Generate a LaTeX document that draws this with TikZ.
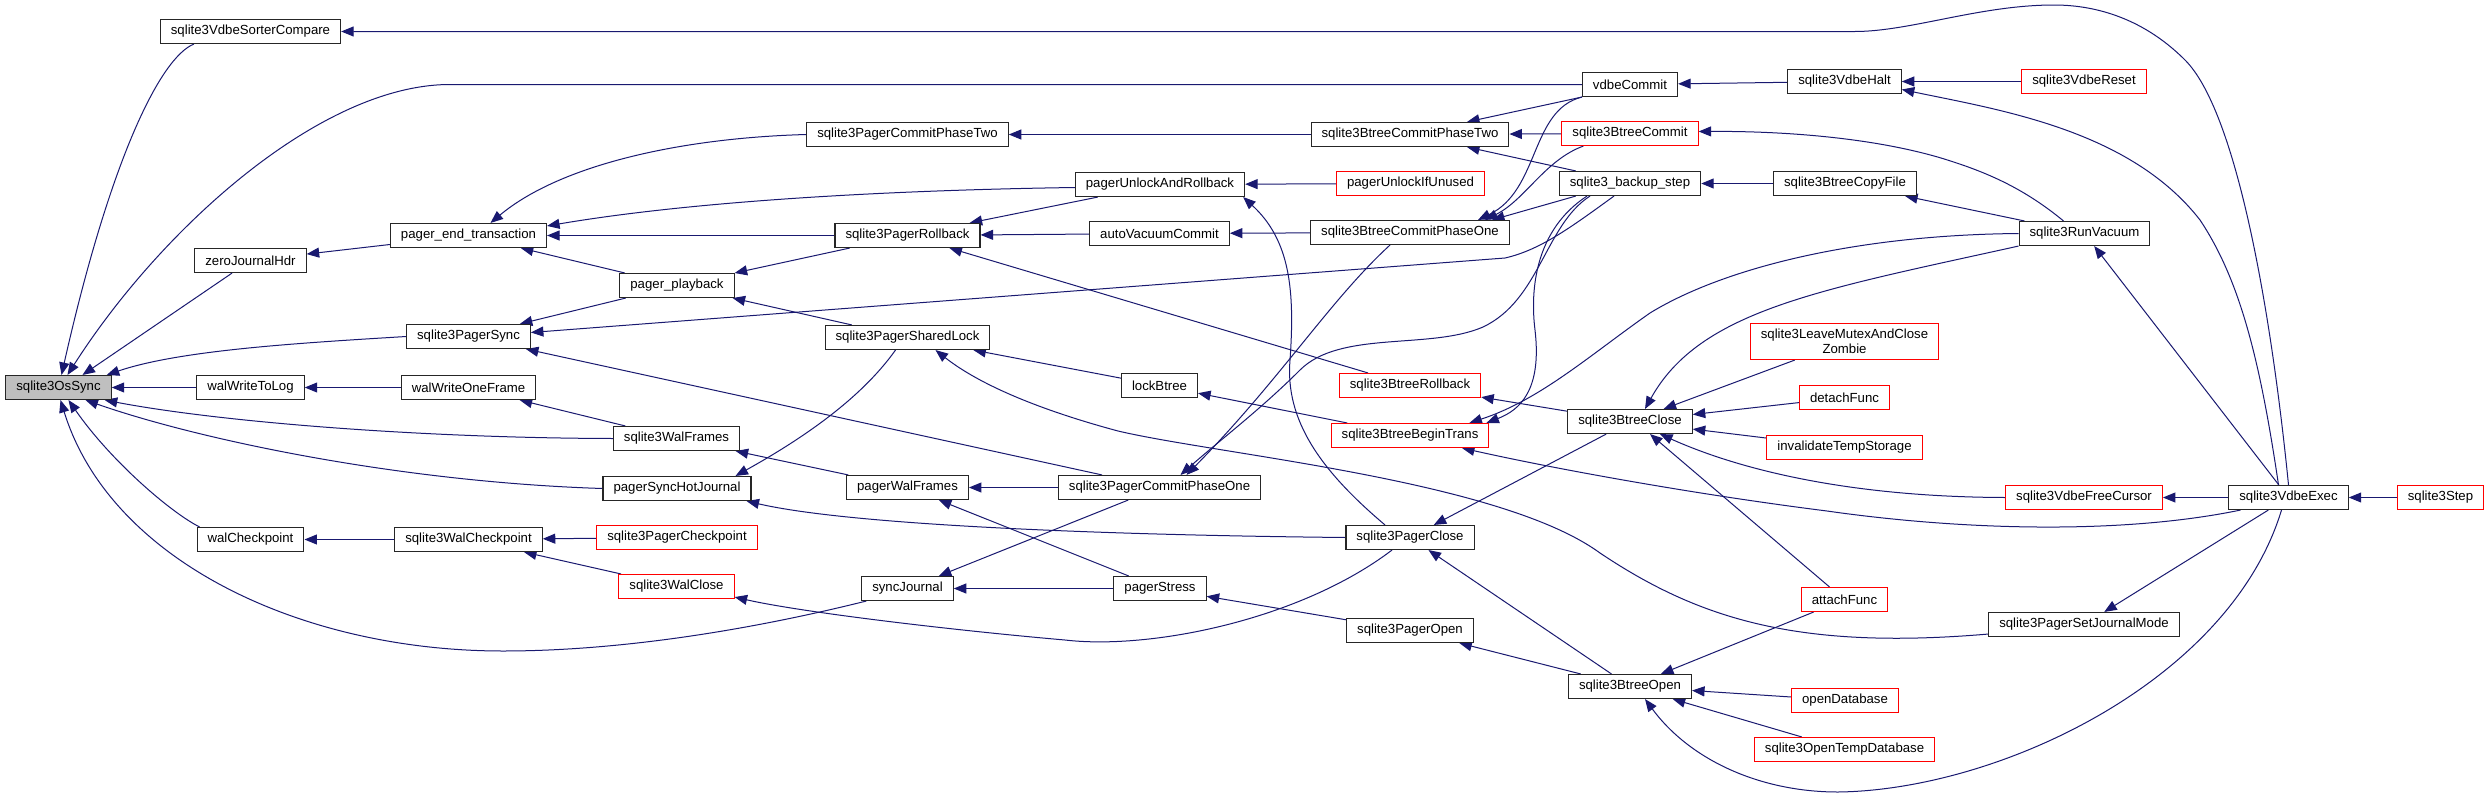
\documentclass[tikz,border=0pt]{standalone}
\usepackage{fontspec}
\setmainfont{Liberation Sans}
\usetikzlibrary{arrows.meta}
\definecolor{navyc}{HTML}{191970}
\definecolor{redc}{HTML}{FF0000}
\pgfdeclarelayer{edgelayer}
\pgfsetlayers{edgelayer,main}
\tikzset{
  fn/.style={draw=black!85, line width=1.1pt, fill=white, rectangle, inner xsep=10.5pt, inner ysep=0pt,
    minimum height=24pt, font=\fontsize{13.2}{14.5}\selectfont},
  fnred/.style={fn, draw=redc},
  fngray/.style={fn, fill=gray!50},
  e/.style={draw=navyc, line width=1pt, -{Triangle[length=12.5pt,width=10pt]}},
}
\begin{document}
\begin{tikzpicture}[x=1pt,y=-1pt]
\useasboundingbox (0,0) rectangle (2490,798);
% nodes
\node[fngray] (ossync) at (58.5,387.5) {sqlite3OsSync};
\node[fn] (sorter) at (250.5,31.5) {sqlite3VdbeSorterCompare};
\node[fn] (zero) at (250.5,260.5) {zeroJournalHdr};
\node[fn] (wwtl) at (250.5,387.5) {walWriteToLog};
\node[fn] (walcp) at (250.5,539.5) {walCheckpoint};
\node[fn] (pet) at (468.5,235.5) {pager\_end\_transaction};
\node[fn] (psync) at (468.5,336.5) {sqlite3PagerSync};
\node[fn] (wwof) at (468.5,387.5) {walWriteOneFrame};
\node[fn] (swcp) at (468.5,539.5) {sqlite3WalCheckpoint};
\node[fn] (pcp2) at (907.5,134.5) {sqlite3PagerCommitPhaseTwo};
\node[fn] (pplay) at (677,285.5) {pager\_playback};
\node[fn] (wframes) at (676.5,438.5) {sqlite3WalFrames};
\node[fn] (pshj) at (677,488.5) {pagerSyncHotJournal};
\node[fnred] (pcheck) at (677,537.5) {sqlite3PagerCheckpoint};
\node[fnred] (wclose) at (676.5,586.5) {sqlite3WalClose};
\node[fn] (puar) at (1160,184.5) {pagerUnlockAndRollback};
\node[fn] (proll) at (907.5,235.5) {sqlite3PagerRollback};
\node[fn] (plock) at (907.5,337.5) {sqlite3PagerSharedLock};
\node[fn] (pwf) at (907.5,487.5) {pagerWalFrames};
\node[fn] (sjour) at (907.5,588.5) {syncJournal};
\node[fn] (avc) at (1159.5,233.5) {autoVacuumCommit};
\node[fn] (lockb) at (1159.5,385.5) {lockBtree};
\node[fn] (pcp1) at (1159.5,487.5) {sqlite3PagerCommitPhaseOne};
\node[fn] (pstress) at (1160,588.5) {pagerStress};
\node[fn] (bcp2) at (1410,134.5) {sqlite3BtreeCommitPhaseTwo};
\node[fnred] (puiu) at (1410.5,183.5) {pagerUnlockIfUnused};
\node[fn] (bcp1) at (1410,232.5) {sqlite3BtreeCommitPhaseOne};
\node[fnred] (broll) at (1410,385.5) {sqlite3BtreeRollback};
\node[fnred] (bbegin) at (1410,435.5) {sqlite3BtreeBeginTrans};
\node[fn] (pclose) at (1410,537.5) {sqlite3PagerClose};
\node[fn] (popen) at (1410,630.5) {sqlite3PagerOpen};
\node[fn] (vcommit) at (1630,84.5) {vdbeCommit};
\node[fnred] (bcommit) at (1630,133.5) {sqlite3BtreeCommit};
\node[fn] (bstep) at (1630,183.5) {sqlite3\_backup\_step};
\node[fn] (bclose) at (1630,421.5) {sqlite3BtreeClose};
\node[fn] (bopen) at (1630,686.5) {sqlite3BtreeOpen};
\node[fn] (vhalt) at (1844.5,81.5) {sqlite3VdbeHalt};
\node[fn] (bcopy) at (1845,183.5) {sqlite3BtreeCopyFile};
\node[fnred, minimum height=36pt, align=center] (leave) at (1844.5,341.5) {sqlite3LeaveMutexAndClose\\Zombie};
\node[fnred] (detach) at (1844.5,397.5) {detachFunc};
\node[fnred] (invtemp) at (1844.5,447.5) {invalidateTempStorage};
\node[fnred] (attach) at (1844.5,599.5) {attachFunc};
\node[fnred] (opendb) at (1845,700.5) {openDatabase};
\node[fnred] (opentemp) at (1844.5,749.5) {sqlite3OpenTempDatabase};
\node[fnred] (vreset) at (2084,81.5) {sqlite3VdbeReset};
\node[fn] (runvac) at (2084.5,233.5) {sqlite3RunVacuum};
\node[fnred] (vfree) at (2084,497.5) {sqlite3VdbeFreeCursor};
\node[fn] (setjm) at (2084,624.5) {sqlite3PagerSetJournalMode};
\node[fn] (vexec) at (2288.5,497.5) {sqlite3VdbeExec};
\node[fnred] (step3) at (2440.5,497.5) {sqlite3Step};
% edges
\begin{pgfonlayer}{edgelayer}
\fill[white] (0,0) rectangle (2490,798);
\draw[e] ([xshift=34pt]sorter.south west) .. controls (160,58) and (110,160) .. ([xshift=3pt]ossync.north);
\draw[e] (vcommit.west) -- (450,84.5) .. controls (320,84.5) and (160,230) .. ([xshift=9pt]ossync.north);
\draw[e] (zero) -- ([xshift=24pt]ossync.north);
\draw[e] (psync.west) .. controls (300,343) and (180,350) .. ([xshift=-5pt]ossync.north east);
\draw[e] (wwtl) -- (ossync);
\draw[e] (wframes.west) .. controls (420,438) and (220,422) .. ([xshift=-7pt]ossync.south east);
\draw[e] (pshj.west) .. controls (400,482) and (200,440) .. ([xshift=27pt]ossync.south);
\draw[e] ([xshift=3pt]walcp.north west) .. controls (170,512) and (110,460) .. ([xshift=10pt]ossync.south);
\draw[e] ([xshift=5pt]sjour.south west) .. controls (750,630) and (620,651) .. (503,651) .. controls (300,651) and (110,560) .. ([xshift=2pt]ossync.south);
\draw[e] (pet) -- (zero);
\draw[e] (pcp2.west) .. controls (680,138) and (560,165) .. ([xshift=22pt]pet.north);
\draw[e] ([yshift=-3pt]puar.west) .. controls (900,190) and (700,200) .. ([yshift=-3pt]pet.north east);
\draw[e] (proll) -- (pet);
\draw[e] (pplay) -- (pet);
\draw[e] (pplay) -- (psync);
\draw[e] (proll) -- (pplay);
\draw[e] (plock) -- (pplay);
\draw[e] ([xshift=-16pt]bstep.south) .. controls (1570,228) and (1540,250) .. (1505,258) -- ([yshift=4pt]psync.east);
\draw[e] (pcp1) -- (psync);
\draw[e] (wwof) -- (wwtl);
\draw[e] (wframes) -- (wwof);
\draw[e] (pwf) -- (wframes);
\draw[e] ([xshift=-12pt]plock.south) .. controls (860,400) and (800,440) .. ([xshift=-16pt]pshj.north east);
\draw[e] (pclose.west) .. controls (1100,535) and (850,525) .. ([xshift=-5pt]pshj.south east);
\draw[e] (swcp) -- (walcp);
\draw[e] (pcheck) -- (swcp);
\draw[e] (wclose) -- (swcp);
\draw[e] ([xshift=-18pt]pclose.south) .. controls (1300,620) and (1150,650) .. (1065,640) .. controls (950,630) and (800,612) .. ([yshift=2pt]wclose.south east);
\draw[e] (pcp1) -- (sjour);
\draw[e] (pstress) -- (sjour);
\draw[e] (pstress) -- (pwf);
\draw[e] (pcp1) -- (pwf);
\draw[e] (popen) -- (pstress);
\draw[e] (bopen) -- (popen);
\draw[e] (bopen) -- (pclose);
\draw[e] (bclose) -- (pclose);
\draw[e] ([xshift=-25pt]pclose.north) .. controls (1320,470) and (1285,420) .. (1290,360) .. controls (1295,290) and (1290,240) .. ([xshift=-2pt]puar.south east);
\draw[e] (bcp2) -- (pcp2);
\draw[e] (bcommit) -- (bcp2);
\draw[e] (vcommit.south west) -- ([xshift=57pt]bcp2.north);
\draw[e] ([xshift=17pt]bstep.north west) -- ([xshift=57pt]bcp2.south);
\draw[e] (puar) -- (proll);
\draw[e] (puiu) -- (puar);
\draw[e] (avc) -- (proll);
\draw[e] (bcp1) -- (avc);
\draw[e] (broll) -- (proll);
\draw[e] (lockb) -- (plock);
\draw[e] (bbegin) -- (lockb);
\draw[e] (bclose) -- (broll);
\draw[e] ([yshift=3pt]setjm.south west) .. controls (1800,650) and (1700,620) .. (1600,553) .. controls (1500,480) and (1220,455) .. (1118,431) .. controls (1040,410) and (980,385) .. ([xshift=28pt]plock.south);
\draw[e] ([xshift=-20pt]bcp1.south) .. controls (1330,300) and (1280,380) .. ([xshift=27pt]pcp1.north);
\draw[e] ([xshift=-40pt]bstep.south) .. controls (1545,225) and (1540,300) .. (1483,327) .. controls (1430,350) and (1340,330) .. (1300,370) .. controls (1260,410) and (1220,440) .. ([xshift=21pt]pcp1.north);
\draw[e] ([xshift=22pt]bcommit.south west) .. controls (1545,160) and (1525,200) .. ([xshift=75pt]bcp1.north);
\draw[e] (vcommit.south west) .. controls (1530,110) and (1540,190) .. ([xshift=68pt]bcp1.north);
\draw[e] ([xshift=17pt]bstep.south west) -- ([xshift=82pt]bcp1.north);
\draw[e] ([xshift=-43pt]bstep.south) .. controls (1535,230) and (1530,290) .. (1535,330) .. controls (1542,390) and (1520,410) .. ([xshift=-3pt]bbegin.north east);
\draw[e] (runvac.west) .. controls (1850,235) and (1720,270) .. (1650,313) .. controls (1590,355) and (1540,400) .. ([xshift=-20pt]bbegin.north east);
\draw[e] ([xshift=-21pt]runvac.north) .. controls (2020,185) and (1980,170) .. (1941,158) .. controls (1870,137) and (1780,131) .. ([yshift=2pt]bcommit.east);
\draw[e] (runvac) -- (bcopy);
\draw[e] (bcopy) -- (bstep);
\draw[e] (vexec) -- (runvac);
\draw[e] (runvac.south west) .. controls (1820,290) and (1700,310) .. ([xshift=15pt]bclose.north);
\draw[e] (leave) -- (bclose);
\draw[e] (detach) -- (bclose);
\draw[e] (invtemp) -- (bclose);
\draw[e] (vfree.west) .. controls (1850,497) and (1740,470) .. ([xshift=30pt]bclose.south);
\draw[e] ([xshift=-15pt]attach.north) -- ([xshift=20pt]bclose.south);
\draw[e] (vexec) -- (vfree);
\draw[e] (step3) -- (vexec);
\draw[e] (vexec) -- (setjm);
\draw[e] (attach) -- (bopen);
\draw[e] (opendb) -- (bopen);
\draw[e] (opentemp) -- (bopen);
\draw[e] ([xshift=-7pt]vexec.south) .. controls (2230,680) and (2000,790) .. (1838,792) .. controls (1760,792) and (1690,760) .. ([xshift=15pt]bopen.south);
\draw[e] ([xshift=-48pt]vexec.south) .. controls (2120,535) and (1960,530) .. (1827,511) .. controls (1700,495) and (1560,470) .. ([xshift=52pt]bbegin.south);
\draw[e] (vexec.north) .. controls (2270,300) and (2235,110) .. (2185,60) .. controls (2140,15) and (2090,5) .. (2054,5) .. controls (1980,5) and (1910,31.5) .. (1855,31.5) -- (sorter.east);
\draw[e] ([xshift=-10pt]vexec.north) .. controls (2260,360) and (2240,280) .. (2200,220) .. controls (2130,130) and (2000,110) .. ([yshift=-8pt]vhalt.east);
\draw[e] (vreset) -- (vhalt);
\draw[e] (vhalt) -- (vcommit);
\end{pgfonlayer}
\end{tikzpicture}
\end{document}
